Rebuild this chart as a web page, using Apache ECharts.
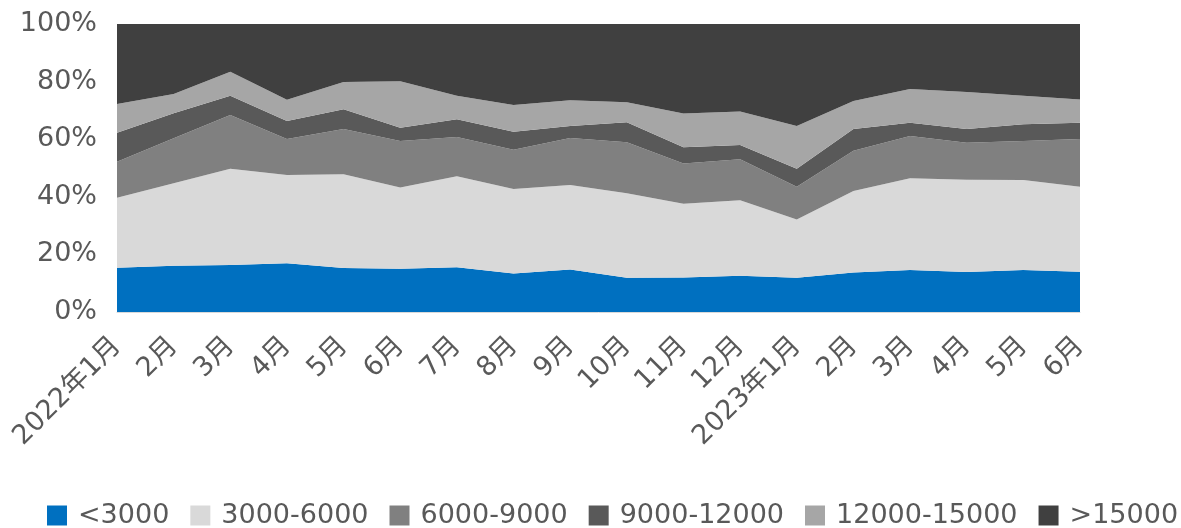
<!DOCTYPE html>
<html>
<head>
<meta charset="utf-8">
<script src="https://cdn.jsdelivr.net/npm/echarts@6/dist/echarts.min.js"></script>
<style>
html,body{margin:0;padding:0;background:#fff;}
#chart{width:1181px;height:528px;}
</style>
</head>
<body>
<div id="chart"></div>
<script>
const categories = ['2022年1月','2月','3月','4月','5月','6月','7月','8月','9月','10月','11月','12月','2023年1月','2月','3月','4月','5月','6月'];
const seriesNames = ['<3000','3000-6000','6000-9000','9000-12000','12000-15000','>15000'];
const s_lt3000   = [15.4,16.1,16.3,16.9,15.3,15.0,15.5,13.4,14.8,11.9,12.0,12.6,11.9,13.7,14.6,13.9,14.6,14.0];
const s_3000_6000 = [24.3,28.6,33.4,30.7,32.5,28.2,31.6,29.3,29.3,29.3,25.6,26.2,20.2,28.3,31.8,32.0,31.2,29.5];
const s_6000_9000 = [12.5,15.6,18.7,12.5,15.7,16.2,13.7,13.6,16.3,17.7,14.0,14.2,11.4,14.0,14.7,12.9,13.6,16.6];
const s_9000_12000 = [10.0,8.7,6.7,6.2,6.9,4.6,6.1,6.3,4.2,7.0,5.6,5.0,6.2,7.5,4.6,4.7,5.8,5.6];
const s_12000_15000 = [10.0,6.7,8.3,7.4,9.5,16.1,8.2,9.3,8.9,6.9,11.7,11.6,14.9,9.8,11.7,12.9,9.9,8.1];
const s_gt15000 = [27.8,24.3,16.6,26.3,20.1,19.9,24.9,28.1,26.5,27.2,31.1,30.4,35.4,26.7,22.6,23.6,24.9,26.2];
const yTicks = [0,20,40,60,80,100];

const colors = ['#0070C0','#D9D9D9','#808080','#595959','#A6A6A6','#404040'];
const allData = [s_lt3000,s_3000_6000,s_6000_9000,s_9000_12000,s_12000_15000,s_gt15000];
const FONT = '"DejaVu Sans","Noto Sans CJK SC",sans-serif';

const chart = echarts.init(document.getElementById('chart'), null, {renderer:'canvas'});
chart.setOption({
  animation:false,
  color: colors,
  grid:{left:117,right:101,top:24,bottom:216,containLabel:false},
  legend:{
    data: seriesNames,
    left:42, top:497, width:1180,
    icon:'rect', itemWidth:20, itemHeight:20, itemGap:21,
    textStyle:{fontFamily:FONT,fontSize:27,color:'#595959',padding:[0,0,0,6]}
  },
  xAxis:{
    type:'category', data:categories, boundaryGap:false,
    axisLine:{show:true,lineStyle:{color:'#D9D9D9',width:1}},
    axisTick:{show:false},
    splitLine:{show:false},
    axisLabel:{rotate:45,interval:0,margin:30,fontFamily:FONT,fontSize:27,color:'#595959'}
  },
  yAxis:{
    type:'value', min:yTicks[0], max:yTicks[yTicks.length-1], interval:20,
    axisLine:{show:false}, axisTick:{show:false}, splitLine:{show:false},
    axisLabel:{formatter:'{value}%',margin:20,fontFamily:FONT,fontSize:27,color:'#595959'}
  },
  series: seriesNames.map((n,i)=>({
    name:n, type:'line', stack:'total', data:allData[i],
    symbol:'none', lineStyle:{width:0}, areaStyle:{color:colors[i],opacity:1},
    itemStyle:{color:colors[i]}, z:2
  }))
});
</script>
</body>
</html>
